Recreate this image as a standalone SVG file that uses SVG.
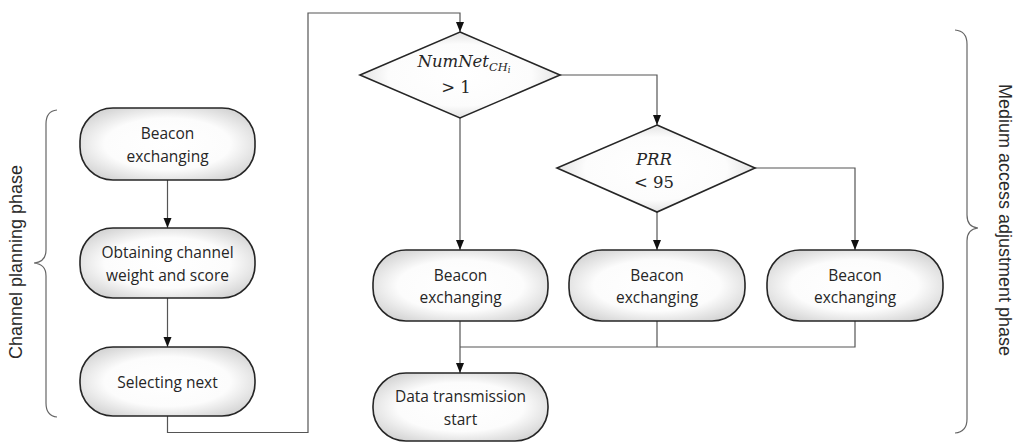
<svg xmlns="http://www.w3.org/2000/svg" width="1020" height="443" viewBox="0 0 1020 443">
<style>
.node{fill:url(#g);stroke:#262626;stroke-width:1.6}
.t{font-family:"Open Sans","Noto Sans",sans-serif;font-size:15.5px;fill:#262626;text-anchor:middle}
.m{font-family:"DejaVu Serif","Liberation Serif",serif;font-size:16.5px;fill:#262626;text-anchor:middle}
.c{fill:none;stroke:#555;stroke-width:1.2}
.a{marker-end:url(#ah)}
.br{fill:none;stroke:#666;stroke-width:1.2}
.lab{font-family:"Liberation Sans",Arial,sans-serif;font-size:18px;fill:#2a2a2a;text-anchor:middle}
</style>
<defs>
<radialGradient id="g" cx="50%" cy="50%" r="58%">
<stop offset="0" stop-color="#ffffff"/>
<stop offset="0.62" stop-color="#fcfcfc"/>
<stop offset="1" stop-color="#d6d6d6"/>
</radialGradient>
<marker id="ah" markerUnits="userSpaceOnUse" markerWidth="10" markerHeight="10" viewBox="0 0 10 10" refX="10" refY="5" orient="auto">
<path d="M0,1 L10,5 L0,9 Z" fill="#111"/>
</marker>
</defs>

<g id="connectors">
<path class="c a" d="M167.5,180 V228"/>
<path class="c a" d="M167.5,298 V347"/>
<path class="c a" d="M167.5,416 V432.5 H308 V13 H460 V32"/>
<path class="c a" d="M460,118 V250"/>
<path class="c a" d="M560,75 H657 V125"/>
<path class="c a" d="M657,212 V250"/>
<path class="c a" d="M755,168 H855 V250"/>
<path class="c" d="M460,321 V347 M657,321 V347 M855,321 V347 H460"/>
<path class="c a" d="M460,347 V373"/>
</g>

<g id="n1">
<rect class="node" x="80" y="108" width="175" height="72" rx="33"/>
<text class="t" x="167.5" y="139">Beacon</text>
<text class="t" x="167.5" y="162">exchanging</text>
</g>
<g id="n2">
<rect class="node" x="80" y="228" width="175" height="70" rx="33"/>
<text class="t" x="167.5" y="258">Obtaining channel</text>
<text class="t" x="167.5" y="281">weight and score</text>
</g>
<g id="n3">
<rect class="node" x="80" y="347" width="175" height="69" rx="33"/>
<text class="t" x="167.5" y="388">Selecting next</text>
</g>

<g id="d1">
<polygon class="node" points="460,32 560,75 460,118 360,75"/>
<text class="m" x="464" y="67"><tspan font-style="italic">NumNet</tspan><tspan font-style="italic" font-size="11.5" dy="4">CH</tspan><tspan font-style="italic" font-size="8.5" dy="2">i</tspan></text>
<text class="m" x="456" y="93">&gt; 1</text>
</g>
<g id="d2">
<polygon class="node" points="657,125 755,168 657,212 557,168"/>
<text class="m" x="654" y="165" font-style="italic">PRR</text>
<text class="m" x="654" y="188">&lt; 95</text>
</g>

<g id="n4">
<rect class="node" x="373" y="250" width="175" height="71" rx="33"/>
<text class="t" x="460.5" y="281">Beacon</text>
<text class="t" x="460.5" y="303">exchanging</text>
</g>
<g id="n5">
<rect class="node" x="569" y="250" width="176" height="71" rx="33"/>
<text class="t" x="657" y="281">Beacon</text>
<text class="t" x="657" y="303">exchanging</text>
</g>
<g id="n6">
<rect class="node" x="767" y="250" width="176" height="71" rx="33"/>
<text class="t" x="855" y="281">Beacon</text>
<text class="t" x="855" y="303">exchanging</text>
</g>
<g id="n7">
<rect class="node" x="373" y="373" width="175" height="68" rx="33"/>
<text class="t" x="460.5" y="402">Data transmission</text>
<text class="t" x="460.5" y="425">start</text>
</g>

<g id="brace-left">
<path class="br" d="M57,110 Q46,111 46,124 V250 Q46,262 34,263 Q46,264 46,276 V403 Q46,416 57,417"/>
<text class="lab" transform="translate(22,262) rotate(-90)">Channel planning phase</text>
</g>
<g id="brace-right">
<path class="br" d="M955,30 Q967,31 967,44 V215 Q967,227 978,228 Q967,229 967,241 V419 Q967,432 955,433"/>
<text class="lab" transform="translate(999,220) rotate(90)">Medium access adjustment phase</text>
</g>
</svg>
